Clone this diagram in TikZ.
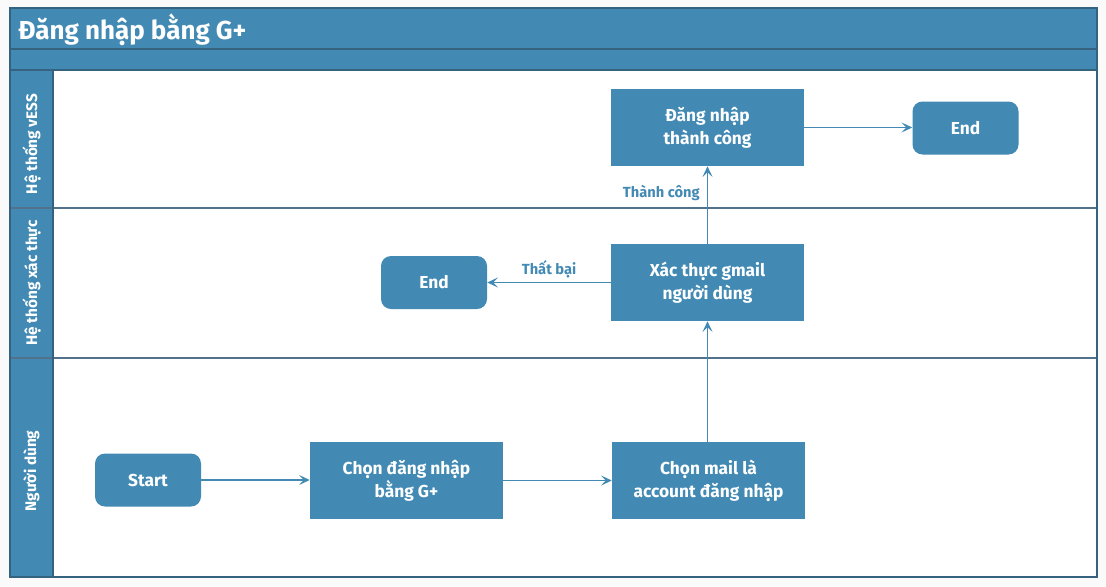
\documentclass[tikz,border=0pt]{standalone}
\usepackage{fontspec}
\setmainfont{Fira Sans}
\usetikzlibrary{arrows.meta,positioning}
\definecolor{blu}{HTML}{428AB4}
\definecolor{frm}{HTML}{35637F}
\definecolor{sep}{HTML}{52718A}
\definecolor{bg}{HTML}{FAFAFA}
\tikzset{
  box/.style={fill=blu,draw=none,text=white,font=\bfseries\fontsize{13}{17}\selectfont,align=center,inner sep=0pt,minimum width=144.75pt,minimum height=57.75pt},
  term/.style={fill=blu,draw=none,text=white,font=\bfseries\fontsize{13}{17}\selectfont,rounded corners=7.5pt,inner sep=0pt,minimum width=79.5pt,minimum height=39.75pt},
  conn/.style={draw=blu,line width=0.8pt,-{Stealth[length=8pt,width=7.5pt,inset=3.5pt]}},
  lbl/.style={text=blu,font=\bfseries\fontsize{11}{13}\selectfont,inner sep=1pt},
  lane/.style={text=white,font=\bfseries\fontsize{11.5}{13}\selectfont,rotate=90,inner sep=0pt},
}
\begin{document}
\begin{tikzpicture}[x=0.75pt,y=-0.75pt]
\fill[bg] (0,0) rectangle (1106,586);
\useasboundingbox (0,0) rectangle (1106,586);
% frame
\fill[white] (10,8) rectangle (1097,577);
\fill[blu] (10,8) rectangle (1097,70);
\fill[blu] (10,70) rectangle (53,577);
\draw[frm,line width=1.2pt] (10,49) -- (1097,49);
\draw[frm,line width=1.2pt] (10,70) -- (1097,70);
\draw[sep,line width=1.2pt] (10,208) -- (1097,208);
\draw[sep,line width=1.2pt] (10,358) -- (1097,358);
\draw[frm,line width=1pt] (53,70) -- (53,577);
\draw[frm,line width=1.2pt] (10,8) rectangle (1097,577);
% title
\node[anchor=west,text=white,font=\bfseries\fontsize{19.5}{23}\selectfont,inner sep=0pt] (title) at (18,30) {Đăng nhập bằng G+};
% lane labels
\node[lane] (l1) at (31.5,144) {Hệ thống vESS};
\node[lane] (l2) at (31.5,283) {Hệ thống xác thực};
\node[lane] (l3) at (31.5,471) {Người dùng};
% nodes
\node[box] (ok) at (707.5,127.5) {Đăng nhập\\thành công};
\node[term] (end1) at (965.5,128) {End};
\node[box] (ver) at (707.5,282.5) {Xác thực gmail\\người dùng};
\node[term] (end2) at (434,282.5) {End};
\node[term] (start) at (148,480) {Start};
\node[box] (chon) at (406.5,480.5) {Chọn đăng nhập\\bằng G+};
\node[box] (mail) at (708.5,480.5) {Chọn mail là\\account đăng nhập};
% connectors
\draw[conn] (start.east) -- (start.east -| chon.west);
\draw[conn] (chon) -- (mail);
\draw[conn] (mail.north -| ver.south) -- (ver.south);
\draw[conn] (ver) -- node[lbl,pos=0.5,anchor=south,yshift=2pt] (fail) {Thất bại} (end2);
\draw[conn] (ver) -- node[lbl,pos=0.65,anchor=east,xshift=-4.5pt] (succ) {Thành công} (ok);
\draw[conn] (ok.east) -- (ok.east -| end1.west);
\end{tikzpicture}
\end{document}
